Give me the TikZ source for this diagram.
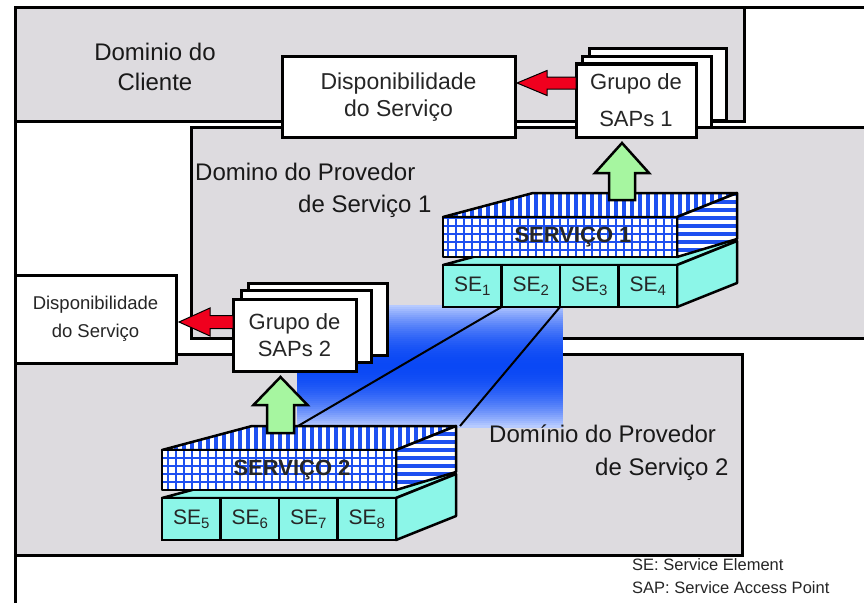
\documentclass[tikz,border=0pt]{standalone}
\usepackage{fontspec}
\setmainfont{Liberation Sans}
\usetikzlibrary{patterns.meta,calc}

\definecolor{domgray}{RGB}{221,219,223}
\definecolor{secyan}{RGB}{140,246,232}
\definecolor{stripe}{RGB}{30,80,240}
\definecolor{okgreen}{RGB}{166,246,160}
\definecolor{alertred}{RGB}{240,0,30}
\definecolor{deepblue}{RGB}{10,72,245}
\definecolor{paleblue}{RGB}{182,202,255}

% subscript of a service element label
\newcommand\sesub[1]{{\fontsize{15}{15}\selectfont\raisebox{-4pt}{#1}}}

% a service slab resting on its row of four service elements;
% local origin = top left corner of the slab's front face
% #1 name prefix, #2 service label, #3-#6 element numbers
\newcommand\serviceslab[6]{%
  % element row: top and side faces
  \draw[slabline, fill=secyan] (0,48) -- (90,24) -- (294,24) -- (234,48) -- cycle;
  \draw[slabline, fill=secyan] (234,48) -- (294,24) -- (294,66) -- (234,90) -- cycle;
  % element row: front cells
  \foreach \k/\n in {0/#3,1/#4,2/#5,3/#6}{
    \node[secell] (#1-se\n) at (\k*58.5,48) {SE\sesub{\n}};
  }
  % slab: top face (vertical stripes) and side face (horizontal stripes)
  \draw[slabline, preaction={fill=white},
        pattern={Lines[angle=90,distance=8pt,line width=4pt]}, pattern color=stripe]
        (0,0) -- (90,-24) -- (294,-24) -- (234,0) -- cycle;
  \draw[slabline, preaction={fill=white},
        pattern={Lines[angle=0,distance=8pt,line width=4pt]}, pattern color=stripe]
        (234,0) -- (294,-24) -- (294,22) -- (234,40) -- cycle;
  % slab: front face
  \node[slabline, preaction={fill=white},
        pattern={Hatch[angle=0,distance=8pt,line width=1.6pt]}, pattern color=stripe,
        minimum width=234pt, minimum height=40pt, inner sep=0pt, outer sep=0pt,
        anchor=north west] (#1-front) at (0,0) {};
  \node[srvlabel] (#1-label) at (130,20) {#2};
  % points on the back edge of the top face
  \coordinate (#1-backA) at (136,-24);
  \coordinate (#1-backB) at (298,-24);
}

\begin{document}
\begin{tikzpicture}[x=1pt,y=-1pt,
  dombox/.style={fill=domgray, draw=black, line width=3pt},
  outerframe/.style={draw=black, line width=3pt},
  wbox/.style={draw=black, fill=white, line width=3pt, inner sep=0pt, outer sep=0pt},
  slabline/.style={draw=black, line width=2.5pt, line join=round},
  secell/.style={draw=black, fill=secyan, line width=2.5pt, inner sep=0pt, outer sep=0pt,
    minimum width=58.5pt, minimum height=42pt, anchor=north west,
    font=\fontsize{21}{21}\selectfont, text=black!85},
  srvlabel/.style={font=\bfseries\fontsize{22}{22}\selectfont, text=black!85, inner sep=0pt},
  greenarrow/.style={fill=okgreen, draw=black, line width=2.5pt, line join=miter},
  redarrow/.style={fill=alertred, draw=black, line width=1pt, line join=miter},
  link/.style={draw=black, line width=2pt},
  domlabel/.style={font=\fontsize{24}{30}\selectfont, text=black!90, inner sep=0pt},
  boxtext/.style={text=black!85, align=center},
  legend/.style={font=\fontsize{16.5}{18}\selectfont, text=black!85, inner sep=0pt, anchor=base west}]

\useasboundingbox (0,0) rectangle (864,602);
\fill[white] (0,0) rectangle (864,602);
\clip (0,0) rectangle (864,602);

% legend (partly under the lower domain's border)
\node[legend] (leg1) at (632,570) {SE: Service Element};
\node[legend] (leg2) at (632,593) {SAP: Service Access Point};

% domains
\draw[outerframe] (880,8) -- (15,8) -- (15,610);
\draw[dombox] (15,8) rectangle (744,121);
\draw[dombox] (191,127) rectangle (880,338);
\draw[dombox] (15,354) rectangle (742,555);

% blue band between the two providers: pale at the edges, deep in the middle
\foreach \i in {0,...,60}{
  \pgfmathsetmacro\m{100*(1-((\i-30)/30)^2)}
  \fill[deepblue!\m!paleblue] (297,305+2*\i) rectangle (563,307.6+2*\i);
}

% services
\begin{scope}[shift={(443,217)}]
  \serviceslab{s1}{SERVIÇO 1}{1}{2}{3}{4}
\end{scope}
\begin{scope}[shift={(162,450)}]
  \serviceslab{s2}{SERVIÇO 2}{5}{6}{7}{8}
\end{scope}

% service element SE2 mapped onto service 2
\draw[link] (s1-se2.south west) -- (s2-backA);
\draw[link] (s1-se2.south east) -- (s2-backB);

% availability boxes
\node[wbox, minimum width=233pt, minimum height=80pt, boxtext,
      font=\fontsize{23}{27}\selectfont] (disp1) at (398.5,97) {Disponibilidade\\do Serviço};
\node[wbox, minimum width=161pt, minimum height=88pt, boxtext,
      font=\fontsize{18.5}{28}\selectfont] (disp2) at (95.5,319) {Disponibilidade\\do Serviço};

% SAP groups (stacks of three)
\node[wbox, minimum width=137pt, minimum height=71pt] (sap1c) at (657.5,84.5) {};
\node[wbox, minimum width=129pt, minimum height=70pt] (sap1b) at (646.5,92) {};
\node[wbox, minimum width=120pt, minimum height=73pt, boxtext,
      font=\fontsize{22}{37}\selectfont] (sap1) at (636,100.5) {Grupo de\\SAPs 1};

\node[wbox, minimum width=139pt, minimum height=72pt] (sap2c) at (317.5,319) {};
\node[wbox, minimum width=130pt, minimum height=72pt] (sap2b) at (306,326) {};
\node[wbox, minimum width=123pt, minimum height=72pt, boxtext,
      font=\fontsize{22}{27}\selectfont] (sap2) at (294.5,335) {Grupo de\\SAPs 2};

% green arrows: service -> SAP group
\coordinate (g1tip) at (622,143);
\coordinate (g2tip) at (280.5,377);
\draw[greenarrow] (g1tip) -- ++(27,30) -- ++(-14,0) -- ++(0,27) -- ++(-26,0)
  -- ++(0,-27) -- ++(-14,0) -- cycle;
\draw[greenarrow] (g2tip) -- ++(27,28) -- ++(-13.5,0) -- ++(0,28) -- ++(-27,0)
  -- ++(0,-28) -- ++(-13.5,0) -- cycle;

% red arrows: SAP group -> availability
\coordinate (r1tip) at ($(disp1.east)+(2,-14)$);
\coordinate (r2tip) at ($(disp2.east)+(3,3)$);
\draw[redarrow] (r1tip) -- ++(30,-12.5) -- ++(0,6.5) -- (sap1.west |- {$(r1tip)+(0,-6)$})
  -- (sap1.west |- {$(r1tip)+(0,6)$}) -- ++(-29,0) -- ++(0,6.5) -- cycle;
\draw[redarrow] (r2tip) -- ++(31,-14) -- ++(0,7.5) -- (sap2.west |- {$(r2tip)+(0,-6.5)$})
  -- (sap2.west |- {$(r2tip)+(0,6.5)$}) -- ++(-23,0) -- ++(0,7.5) -- cycle;

% domain labels
\node[domlabel, align=center] (cli) at (155,67) {Dominio do\\Cliente};
\node[domlabel, anchor=base west] (p1a) at (195,180) {Domino do Provedor};
\node[domlabel, anchor=base west] (p1b) at (298,212) {de Serviço 1};
\node[domlabel, anchor=base west] (p2a) at (489,442) {Domínio do Provedor};
\node[domlabel, anchor=base west] (p2b) at (595,475) {de Serviço 2};

\end{tikzpicture}
\end{document}
